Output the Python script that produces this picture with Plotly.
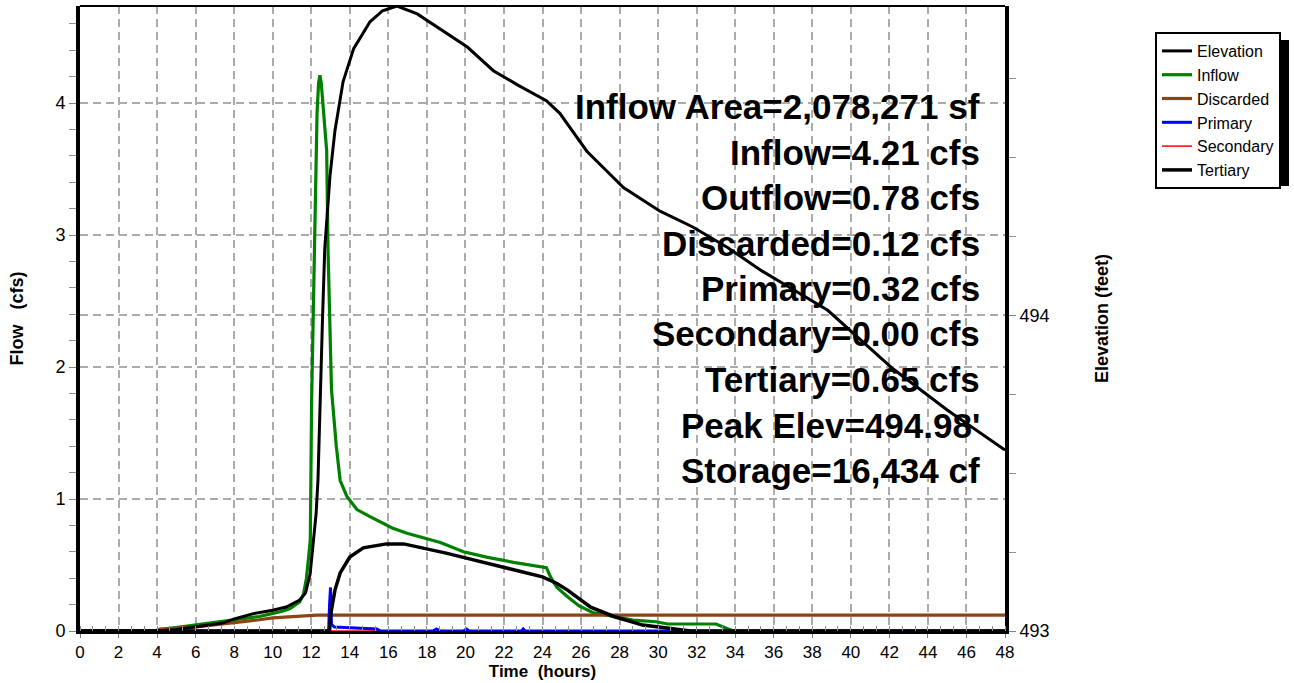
import plotly.graph_objects as go

# ---------------- data ----------------
elev_t = [0, 4.0, 5.0, 6.0, 7.0, 7.4, 8.1, 9.0, 10.0, 10.7, 11.4, 11.7, 11.94, 12.1, 12.25,
          12.35, 12.45, 12.58, 12.7, 12.97, 13.23, 13.65, 14.2, 15.05, 15.7, 16.45, 17.5,
          18.85, 20.1, 21.45, 22.7, 24.2, 24.9, 26.3, 28.2, 30.1, 31.8, 33.6, 35.4, 38.8,
          42.2, 45.0, 48.0]
elev_v = [493.0, 493.0, 493.005, 493.013, 493.02, 493.025, 493.04, 493.055, 493.066, 493.076,
          493.098, 493.12, 493.18, 493.27, 493.37, 493.48, 493.73, 493.98, 494.21, 494.44,
          494.585, 494.74, 494.845, 494.93, 494.965, 494.98, 494.955, 494.90, 494.85, 494.775,
          494.73, 494.68, 494.64, 494.52, 494.405, 494.33, 494.28, 494.215, 494.14, 494.016,
          493.83, 493.70, 493.573]

inflow_t = [0, 3.8, 4.2, 5.0, 6.0, 7.0, 7.8, 8.5, 9.3, 9.9, 10.5, 10.9, 11.2, 11.4, 11.6,
            11.75, 11.85, 11.95, 12.02, 12.09, 12.2, 12.3, 12.38, 12.45, 12.52, 12.62, 12.8,
            12.87, 12.97, 13.05, 13.3, 13.5, 13.85, 14.37, 15.0, 15.57, 16.2, 16.97, 18.0,
            18.7, 19.9, 21.1, 22.5, 24.2, 24.45, 24.75, 25.3, 25.9, 26.6, 27.7, 28.7, 29.9,
            30.5, 33.0, 33.9, 48.0]
inflow_v = [0, 0, 0.01, 0.025, 0.045, 0.065, 0.08, 0.095, 0.11, 0.13, 0.15, 0.17, 0.2, 0.22,
            0.28, 0.4, 0.54, 0.69, 1.75, 2.38, 3.36, 3.92, 4.15, 4.21, 4.15, 3.95, 3.64, 2.89,
            2.2, 1.83, 1.4, 1.14, 1.02, 0.92, 0.87, 0.83, 0.78, 0.74, 0.70, 0.67, 0.60, 0.56,
            0.52, 0.48, 0.40, 0.33, 0.26, 0.19, 0.14, 0.11, 0.083, 0.07, 0.053, 0.053, 0.0, 0.0]

discarded_t = [0, 4.0, 4.15, 5.0, 5.9, 6.6, 7.3, 8.0, 8.7, 9.3, 10.0, 10.6, 11.1, 11.8, 12.3, 48.0]
discarded_v = [0, 0, 0.015, 0.02, 0.03, 0.04, 0.05, 0.06, 0.075, 0.085, 0.10, 0.105, 0.11,
               0.115, 0.12, 0.12]

primary_t = [0, 12.9, 12.95, 13.0, 13.05, 13.2, 14.0, 15.0, 15.4, 15.6, 18.3, 18.5, 18.7,
             19.9, 20.05, 20.2, 22.9, 23.0, 23.1, 48.0]
primary_v = [0, 0, 0.2, 0.33, 0.05, 0.03, 0.025, 0.02, 0.015, 0, 0, 0.015, 0, 0, 0.015, 0,
             0, 0.015, 0, 0]

secondary_t = [0, 48.0]
secondary_v = [0, 0]

tertiary_t = [0, 12.95, 13.0, 13.1, 13.23, 13.5, 14.0, 14.7, 15.9, 16.8, 17.8, 19.0, 20.1,
              21.45, 22.8, 24.0, 24.75, 25.3, 26.5, 27.7, 29.2, 30.8, 31.7, 48.0]
tertiary_v = [0, 0, 0.12, 0.22, 0.31, 0.44, 0.56, 0.63, 0.66, 0.66, 0.63, 0.59, 0.55, 0.50,
              0.45, 0.41, 0.36, 0.31, 0.18, 0.11, 0.045, 0.015, 0, 0]

x_ticks = list(range(0, 49, 2))
flow_range = [0, 4.735]
elev_range = [493, 494.98]

info_lines = ["Inflow Area=2,078,271 sf", "Inflow=4.21 cfs", "Outflow=0.78 cfs",
              "Discarded=0.12 cfs", "Primary=0.32 cfs", "Secondary=0.00 cfs",
              "Tertiary=0.65 cfs", "Peak Elev=494.98'", "Storage=16,434 cf"]

# ---------------- figure ----------------
FONT = "Arial, Liberation Sans, sans-serif"
GRID = "#ABABAB"

fig = go.Figure()
fig.add_trace(go.Scatter(x=inflow_t, y=inflow_v, name="Inflow", mode="lines",
                         line=dict(color="#008000", width=3.2), legendrank=2))
fig.add_trace(go.Scatter(x=discarded_t, y=discarded_v, name="Discarded", mode="lines",
                         line=dict(color="#8B4513", width=3.2), legendrank=3))
fig.add_trace(go.Scatter(x=secondary_t, y=secondary_v, name="Secondary", mode="lines",
                         line=dict(color="#FF0000", width=1.5), legendrank=5))
fig.add_trace(go.Scatter(x=primary_t, y=primary_v, name="Primary", mode="lines",
                         line=dict(color="#0000FF", width=3), legendrank=4))
fig.add_trace(go.Scatter(x=tertiary_t, y=tertiary_v, name="Tertiary", mode="lines",
                         line=dict(color="black", width=3.5), legendrank=6))
fig.add_trace(go.Scatter(x=elev_t, y=elev_v, name="Elevation", mode="lines", yaxis="y2",
                         line=dict(color="black", width=3), legendrank=1))

for i, txt in enumerate(info_lines):
    fig.add_annotation(x=46.8, xref="x", xanchor="right",
                       y=(631 - (106.5 + 45.5 * i)) / 625, yref="paper", yanchor="middle",
                       text=txt, showarrow=False,
                       font=dict(family=FONT, size=35, color="black", weight="bold"))

# top border line
fig.add_shape(type="line", xref="paper", yref="paper", x0=0, x1=1, y0=1, y1=1,
              line=dict(color="black", width=2))
# legend shadow
fig.add_shape(type="rect", xref="paper", yref="paper",
              x0=(1162 - 80) / 925, x1=(1289 - 80) / 925,
              y0=(631 - 186) / 625, y1=(631 - 40) / 625,
              fillcolor="black", line=dict(width=0), layer="above")

fig.update_layout(
    width=1294, height=683,
    margin=dict(l=80, r=289, t=6, b=52, autoexpand=False),
    paper_bgcolor="white", plot_bgcolor="white",
    font=dict(family=FONT, size=17, color="black"),
    showlegend=True,
    legend=dict(x=(1155 - 80) / 925, y=(631 - 32) / 625, xanchor="left", yanchor="top",
                bgcolor="white", bordercolor="black", borderwidth=2,
                font=dict(family=FONT, size=16, color="black"),
                tracegroupgap=0, itemwidth=30),
    xaxis=dict(range=[0, 48], tickvals=x_ticks, ticks="outside", ticklen=4,
               tickcolor="#808080", showgrid=True, gridcolor=GRID, griddash="8px,5px",
               gridwidth=1.5, zeroline=False, showline=True, linecolor="black",
               linewidth=3, layer="above traces", tickfont=dict(size=17), automargin=False,
               minor=dict(dtick=2 / 3, ticks="inside", ticklen=5, tickcolor="#909090",
                          showgrid=False),
               title=dict(text="Time\u00a0 (hours)", standoff=3,
                          font=dict(family=FONT, size=17, weight="bold"))),
    yaxis=dict(range=flow_range, dtick=1, ticks="outside", ticklen=7, tickcolor="#808080",
               showgrid=True, gridcolor=GRID, griddash="8px,5px", gridwidth=1.5,
               zeroline=False, showline=True, linecolor="black", linewidth=4,
               tickfont=dict(size=18), automargin=False,
               minor=dict(dtick=0.2, ticks="outside", ticklen=7, tickcolor="#909090",
                          showgrid=False),
               title=dict(text="Flow\u00a0\u00a0 (cfs)", standoff=28,
                          font=dict(family=FONT, size=18, weight="bold"))),
    yaxis2=dict(range=elev_range, dtick=1, overlaying="y", side="right", ticks="outside",
                ticklen=7, tickcolor="#808080", showgrid=True, gridcolor=GRID,
                griddash="8px,5px", gridwidth=1.5, zeroline=False, showline=True,
                linecolor="black", linewidth=4, tickfont=dict(size=18), automargin=False,
                minor=dict(dtick=0.25, ticks="outside", ticklen=7, tickcolor="#909090",
                           showgrid=False),
                title=dict(text="Elevation (feet)", standoff=48,
                           font=dict(family=FONT, size=18, weight="bold"))),
)

fig.write_html("out.html", config={"displayModeBar": False},
               post_script="document.body.style.margin='0';document.body.style.overflow='hidden';")
